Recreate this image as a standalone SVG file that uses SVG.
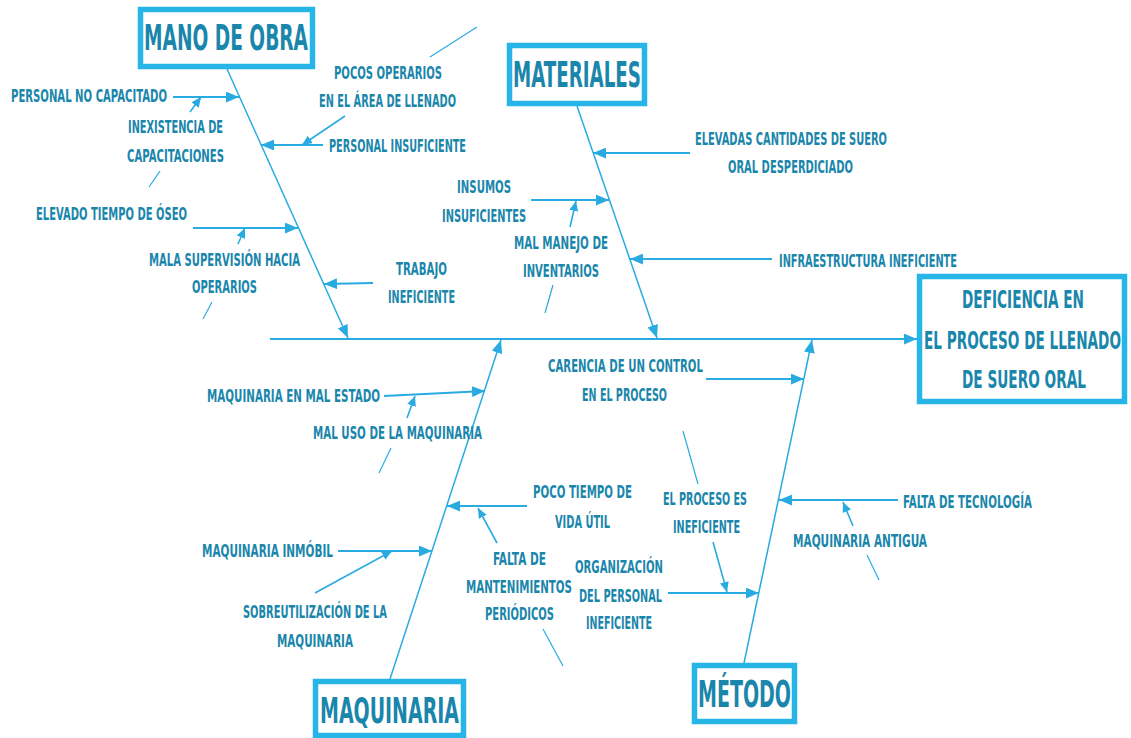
<svg xmlns="http://www.w3.org/2000/svg" width="1131" height="738" viewBox="0 0 1131 738">
  <defs>
    <style>
      .box { fill: #ffffff; stroke: #27B4E6; stroke-width: 5.5; }
      .title { font-family: "Liberation Sans Narrow", "DejaVu Sans Condensed", "Liberation Sans", sans-serif; font-weight: bold; fill: #1A86AB; }
      .lbl { font-family: "Liberation Sans Narrow", "DejaVu Sans Condensed", "Liberation Sans", sans-serif; font-weight: bold; font-size: 17px; fill: #1A86AB; }
      .spine { stroke: #29ABE2; stroke-width: 2; fill: none; }
      .bone { stroke: #29ABE2; stroke-width: 1.5; fill: none; }
      .branch { stroke: #29ABE2; stroke-width: 2; fill: none; }
      .sub { stroke: #29ABE2; stroke-width: 1.6; fill: none; }
      .loose { stroke: #29ABE2; stroke-width: 1.2; fill: none; }
    </style>
    <marker id="arrowBig" viewBox="0 0 12 10" refX="12" refY="5" markerWidth="13" markerHeight="11" markerUnits="userSpaceOnUse" orient="auto">
      <path d="M0,0 L12,5 L0,10 z" fill="#29ABE2"/>
    </marker>
    <marker id="arrowSmall" viewBox="0 0 10 9" refX="10" refY="4.5" markerWidth="10" markerHeight="9" markerUnits="userSpaceOnUse" orient="auto">
      <path d="M0,0 L10,4.5 L0,9 z" fill="#29ABE2"/>
    </marker>
  </defs>

  <rect width="1131" height="738" fill="#ffffff"/>

  <!-- connectors: spine, main bones, cause branches, sub-cause arrows, loose strokes -->
  <g id="connectors">
    <line class="spine" x1="270" y1="339" x2="917" y2="339" marker-end="url(#arrowBig)"/>

    <line class="bone" x1="227" y1="69" x2="348" y2="338" marker-end="url(#arrowBig)"/>
    <line class="bone" x1="577" y1="106" x2="657" y2="338" marker-end="url(#arrowBig)"/>
    <line class="bone" x1="390" y1="679" x2="501" y2="340" marker-end="url(#arrowBig)"/>
    <line class="bone" x1="744" y1="663" x2="812" y2="340" marker-end="url(#arrowBig)"/>

    <line class="branch" x1="173" y1="97" x2="239" y2="97" marker-end="url(#arrowBig)"/>
    <line class="branch" x1="323" y1="145" x2="261" y2="145" marker-end="url(#arrowBig)"/>
    <line class="branch" x1="193" y1="228" x2="298" y2="228" marker-end="url(#arrowBig)"/>
    <line class="branch" x1="373" y1="283" x2="324" y2="284" marker-end="url(#arrowBig)"/>
    <line class="branch" x1="690" y1="153" x2="593" y2="153" marker-end="url(#arrowBig)"/>
    <line class="branch" x1="531" y1="200" x2="609" y2="200" marker-end="url(#arrowBig)"/>
    <line class="branch" x1="772" y1="259" x2="630" y2="259" marker-end="url(#arrowBig)"/>
    <line class="branch" x1="384" y1="396" x2="485" y2="391" marker-end="url(#arrowBig)"/>
    <line class="branch" x1="527" y1="506" x2="447" y2="506" marker-end="url(#arrowBig)"/>
    <line class="branch" x1="338" y1="551" x2="432" y2="551" marker-end="url(#arrowBig)"/>
    <line class="branch" x1="706" y1="379" x2="804" y2="379" marker-end="url(#arrowBig)"/>
    <line class="branch" x1="898" y1="500" x2="779" y2="500" marker-end="url(#arrowBig)"/>
    <line class="branch" x1="668" y1="593" x2="759" y2="593" marker-end="url(#arrowBig)"/>

    <line class="sub" x1="190" y1="112" x2="201" y2="97" marker-end="url(#arrowSmall)"/>
    <line class="sub" x1="345" y1="116" x2="302" y2="145" marker-end="url(#arrowSmall)"/>
    <line class="sub" x1="238" y1="244" x2="245" y2="228" marker-end="url(#arrowSmall)"/>
    <line class="sub" x1="570" y1="227" x2="576" y2="201" marker-end="url(#arrowSmall)"/>
    <line class="sub" x1="407" y1="418" x2="415" y2="396" marker-end="url(#arrowSmall)"/>
    <line class="sub" x1="497" y1="543" x2="478" y2="508" marker-end="url(#arrowSmall)"/>
    <line class="sub" x1="315" y1="593" x2="392" y2="551" marker-end="url(#arrowSmall)"/>
    <line class="sub" x1="853" y1="526" x2="843" y2="502" marker-end="url(#arrowSmall)"/>
    <line class="sub" x1="713" y1="542" x2="727" y2="592" marker-end="url(#arrowSmall)"/>

    <line class="loose" x1="160" y1="171" x2="149" y2="187"/>
    <line class="loose" x1="430" y1="57" x2="477" y2="27"/>
    <line class="loose" x1="212" y1="302" x2="203" y2="319"/>
    <line class="loose" x1="553" y1="285" x2="545" y2="313"/>
    <line class="loose" x1="391" y1="448" x2="379" y2="473"/>
    <line class="loose" x1="543" y1="629" x2="563" y2="666"/>
    <line class="loose" x1="867" y1="555" x2="879" y2="580"/>
    <line class="loose" x1="683" y1="431" x2="698" y2="484"/>
  </g>

  <!-- category boxes -->
  <g id="mano-de-obra">
    <rect class="box" x="140.5" y="9.5" width="172" height="57"/>
    <text class="title" x="144" y="50" font-size="35" textLength="164" lengthAdjust="spacingAndGlyphs">MANO DE OBRA</text>
  </g>
  <g id="materiales">
    <rect class="box" x="509.5" y="45.5" width="135" height="58"/>
    <text class="title" x="513" y="87" font-size="36" textLength="128" lengthAdjust="spacingAndGlyphs">MATERIALES</text>
  </g>
  <g id="maquinaria">
    <rect class="box" x="315.5" y="681.5" width="148" height="54"/>
    <text class="title" x="320" y="723" font-size="36" textLength="139" lengthAdjust="spacingAndGlyphs">MAQUINARIA</text>
  </g>
  <g id="metodo">
    <rect class="box" x="694.5" y="665.5" width="100" height="56"/>
    <text class="title" x="698" y="707" font-size="37" textLength="93" lengthAdjust="spacingAndGlyphs">MÉTODO</text>
  </g>

  <!-- effect box -->
  <g id="efecto">
    <rect class="box" x="919.5" y="276.5" width="205" height="125"/>
    <text class="title" x="962" y="308" font-size="25" textLength="122" lengthAdjust="spacingAndGlyphs">DEFICIENCIA EN</text>
    <text class="title" x="924" y="349" font-size="25" textLength="197" lengthAdjust="spacingAndGlyphs">EL PROCESO DE LLENADO</text>
    <text class="title" x="962" y="388" font-size="25" textLength="124" lengthAdjust="spacingAndGlyphs">DE SUERO ORAL</text>
  </g>

  <!-- causes: mano de obra -->
  <g id="personal-no-capacitado">
    <text class="lbl" x="11" y="102" textLength="156" lengthAdjust="spacingAndGlyphs">PERSONAL NO CAPACITADO</text>
  </g>
  <g id="inexistencia-capacitaciones">
    <text class="lbl" x="128" y="133" textLength="95" lengthAdjust="spacingAndGlyphs">INEXISTENCIA DE</text>
    <text class="lbl" x="127" y="162" textLength="97" lengthAdjust="spacingAndGlyphs">CAPACITACIONES</text>
  </g>
  <g id="pocos-operarios">
    <text class="lbl" x="334" y="79" textLength="108" lengthAdjust="spacingAndGlyphs">POCOS OPERARIOS</text>
    <text class="lbl" x="319" y="107" textLength="137" lengthAdjust="spacingAndGlyphs">EN EL ÁREA DE LLENADO</text>
  </g>
  <g id="personal-insuficiente">
    <text class="lbl" x="329" y="152" textLength="137" lengthAdjust="spacingAndGlyphs">PERSONAL INSUFICIENTE</text>
  </g>
  <g id="elevado-tiempo">
    <text class="lbl" x="36" y="220" textLength="151" lengthAdjust="spacingAndGlyphs">ELEVADO TIEMPO DE ÓSEO</text>
  </g>
  <g id="mala-supervision">
    <text class="lbl" x="149" y="266" textLength="151" lengthAdjust="spacingAndGlyphs">MALA SUPERVISIÓN HACIA</text>
    <text class="lbl" x="192" y="293" textLength="65" lengthAdjust="spacingAndGlyphs">OPERARIOS</text>
  </g>
  <g id="trabajo-ineficiente">
    <text class="lbl" x="396" y="275" textLength="51" lengthAdjust="spacingAndGlyphs">TRABAJO</text>
    <text class="lbl" x="388" y="303" textLength="67" lengthAdjust="spacingAndGlyphs">INEFICIENTE</text>
  </g>

  <!-- causes: materiales -->
  <g id="suero-desperdiciado">
    <text class="lbl" x="695" y="145" textLength="192" lengthAdjust="spacingAndGlyphs">ELEVADAS CANTIDADES DE SUERO</text>
    <text class="lbl" x="728" y="173" textLength="125" lengthAdjust="spacingAndGlyphs">ORAL DESPERDICIADO</text>
  </g>
  <g id="insumos-insuficientes">
    <text class="lbl" x="457" y="193" textLength="54" lengthAdjust="spacingAndGlyphs">INSUMOS</text>
    <text class="lbl" x="442" y="222" textLength="84" lengthAdjust="spacingAndGlyphs">INSUFICIENTES</text>
  </g>
  <g id="mal-manejo-inventarios">
    <text class="lbl" x="514" y="249" textLength="94" lengthAdjust="spacingAndGlyphs">MAL MANEJO DE</text>
    <text class="lbl" x="523" y="277" textLength="76" lengthAdjust="spacingAndGlyphs">INVENTARIOS</text>
  </g>
  <g id="infraestructura">
    <text class="lbl" x="779" y="267" textLength="178" lengthAdjust="spacingAndGlyphs">INFRAESTRUCTURA INEFICIENTE</text>
  </g>

  <!-- causes: maquinaria -->
  <g id="maquinaria-mal-estado">
    <text class="lbl" x="207" y="402" textLength="173" lengthAdjust="spacingAndGlyphs">MAQUINARIA EN MAL ESTADO</text>
  </g>
  <g id="mal-uso">
    <text class="lbl" x="313" y="439" textLength="169" lengthAdjust="spacingAndGlyphs">MAL USO DE LA MAQUINARIA</text>
  </g>
  <g id="vida-util">
    <text class="lbl" x="533" y="498" textLength="99" lengthAdjust="spacingAndGlyphs">POCO TIEMPO DE</text>
    <text class="lbl" x="555" y="528" textLength="55" lengthAdjust="spacingAndGlyphs">VIDA ÚTIL</text>
  </g>
  <g id="falta-mantenimientos">
    <text class="lbl" x="493" y="565" textLength="53" lengthAdjust="spacingAndGlyphs">FALTA DE</text>
    <text class="lbl" x="466" y="593" textLength="106" lengthAdjust="spacingAndGlyphs">MANTENIMIENTOS</text>
    <text class="lbl" x="485" y="620" textLength="69" lengthAdjust="spacingAndGlyphs">PERIÓDICOS</text>
  </g>
  <g id="maquinaria-inmobil">
    <text class="lbl" x="202" y="557" textLength="131" lengthAdjust="spacingAndGlyphs">MAQUINARIA INMÓBIL</text>
  </g>
  <g id="sobreutilizacion">
    <text class="lbl" x="243" y="618" textLength="144" lengthAdjust="spacingAndGlyphs">SOBREUTILIZACIÓN DE LA</text>
    <text class="lbl" x="277" y="647" textLength="76" lengthAdjust="spacingAndGlyphs">MAQUINARIA</text>
  </g>

  <!-- causes: método -->
  <g id="carencia-control">
    <text class="lbl" x="548" y="372" textLength="155" lengthAdjust="spacingAndGlyphs">CARENCIA DE UN CONTROL</text>
    <text class="lbl" x="582" y="401" textLength="85" lengthAdjust="spacingAndGlyphs">EN EL PROCESO</text>
  </g>
  <g id="falta-tecnologia">
    <text class="lbl" x="903" y="508" textLength="129" lengthAdjust="spacingAndGlyphs">FALTA DE TECNOLOGÍA</text>
  </g>
  <g id="maquinaria-antigua">
    <text class="lbl" x="793" y="547" textLength="134" lengthAdjust="spacingAndGlyphs">MAQUINARIA ANTIGUA</text>
  </g>
  <g id="proceso-ineficiente">
    <text class="lbl" x="663" y="505" textLength="84" lengthAdjust="spacingAndGlyphs">EL PROCESO ES</text>
    <text class="lbl" x="673" y="533" textLength="67" lengthAdjust="spacingAndGlyphs">INEFICIENTE</text>
  </g>
  <g id="organizacion-personal">
    <text class="lbl" x="575" y="573" textLength="88" lengthAdjust="spacingAndGlyphs">ORGANIZACIÓN</text>
    <text class="lbl" x="579" y="602" textLength="83" lengthAdjust="spacingAndGlyphs">DEL PERSONAL</text>
    <text class="lbl" x="586" y="629" textLength="66" lengthAdjust="spacingAndGlyphs">INEFICIENTE</text>
  </g>
</svg>
